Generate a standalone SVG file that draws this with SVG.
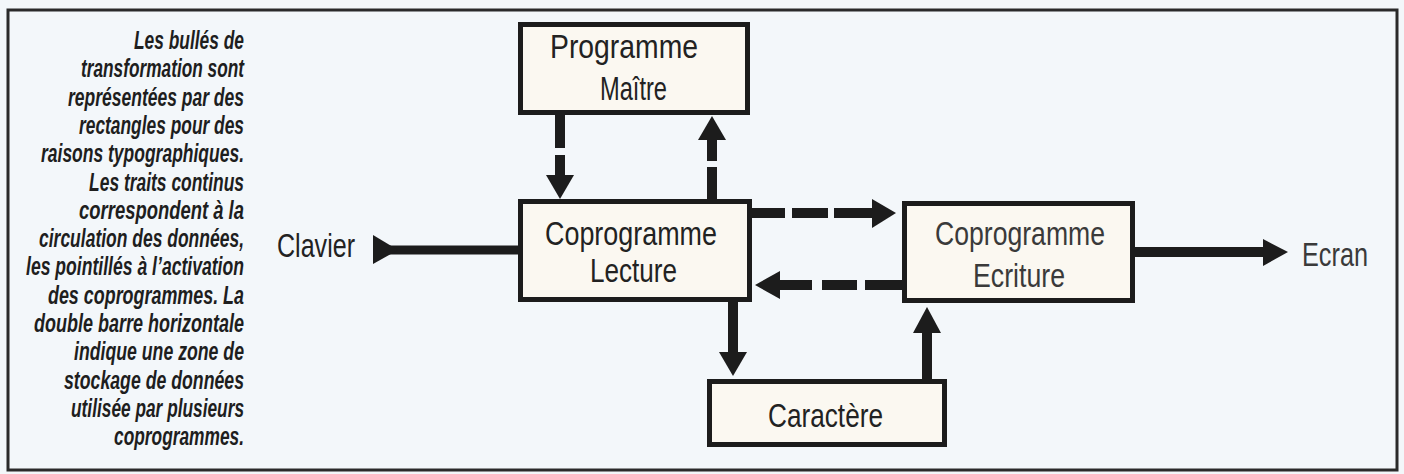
<svg xmlns="http://www.w3.org/2000/svg" width="1404" height="474" viewBox="0 0 1404 474">
<style>
.bg{fill:#f3f7fa}
.frame{fill:none;stroke:#2a2a2a;stroke-width:3}
.box{fill:#fbf8f1;stroke:#1c1c1c;stroke-width:5}
.lbl{font-family:"Liberation Sans",Arial,sans-serif;font-size:34px;fill:#222}
.lbl2{font-family:"Liberation Sans",Arial,sans-serif;font-size:34px;fill:#3a3a3a}
.note{font-family:"Liberation Sans",Arial,sans-serif;font-size:26px;font-weight:bold;font-style:italic;fill:#1e1e1e;text-anchor:end}
.shaft{stroke:#1c1c1c;stroke-width:10;fill:none}
.head{fill:#1c1c1c}
</style>
<rect class="bg" x="0" y="0" width="1404" height="474"/>
<rect class="frame" x="8" y="10" width="1389" height="460"/>

<g id="legend" transform="matrix(0.66,0,0,1,244,0)">
<text class="note" x="0" y="49" textLength="166.7" lengthAdjust="spacingAndGlyphs">Les bullés de</text>
<text class="note" x="0" y="77" textLength="247" lengthAdjust="spacingAndGlyphs">transformation sont</text>
<text class="note" x="0" y="106" textLength="266.7" lengthAdjust="spacingAndGlyphs">représentées par des</text>
<text class="note" x="0" y="134" textLength="250" lengthAdjust="spacingAndGlyphs">rectangles pour des</text>
<text class="note" x="0" y="162" textLength="307.6" lengthAdjust="spacingAndGlyphs">raisons typographiques.</text>
<text class="note" x="0" y="191" textLength="234.8" lengthAdjust="spacingAndGlyphs">Les traits continus</text>
<text class="note" x="0" y="219" textLength="250" lengthAdjust="spacingAndGlyphs">correspondent à la</text>
<text class="note" x="0" y="247" textLength="310.6" lengthAdjust="spacingAndGlyphs">circulation des données,</text>
<text class="note" x="0" y="275" textLength="330.3" lengthAdjust="spacingAndGlyphs">les pointillés à l’activation</text>
<text class="note" x="0" y="304" textLength="297" lengthAdjust="spacingAndGlyphs">des coprogrammes. La</text>
<text class="note" x="0" y="332" textLength="318.2" lengthAdjust="spacingAndGlyphs">double barre horizontale</text>
<text class="note" x="0" y="360" textLength="257.6" lengthAdjust="spacingAndGlyphs">indique une zone de</text>
<text class="note" x="0" y="389" textLength="272.7" lengthAdjust="spacingAndGlyphs">stockage de données</text>
<text class="note" x="0" y="417" textLength="262.1" lengthAdjust="spacingAndGlyphs">utilisée par plusieurs</text>
<text class="note" x="0" y="445" textLength="197" lengthAdjust="spacingAndGlyphs">coprogrammes.</text>
</g>

<g id="connectors">
<!-- Maitre -> Lecture (dashed, down) -->
<line class="shaft" x1="560" y1="114" x2="560" y2="148"/>
<line class="shaft" x1="560" y1="155" x2="560" y2="177"/>
<polygon class="head" points="546,175 574,175 560,199"/>
<!-- Lecture -> Maitre (dashed, up) -->
<line class="shaft" x1="712" y1="200" x2="712" y2="167"/>
<line class="shaft" x1="712" y1="161" x2="712" y2="138"/>
<polygon class="head" points="698,140 726,140 712,116"/>
<!-- Clavier -> Lecture -->
<line class="shaft" x1="380" y1="250" x2="519" y2="250" style="stroke-width:9"/>
<polygon class="head" points="373,235 373,264 398,250"/>
<!-- Lecture -> Ecriture (dashed) -->
<line class="shaft" x1="751" y1="213" x2="785" y2="213"/>
<line class="shaft" x1="792" y1="213" x2="828" y2="213"/>
<line class="shaft" x1="834" y1="213" x2="874" y2="213"/>
<polygon class="head" points="872,199 872,228 896,213"/>
<!-- Ecriture -> Lecture (dashed) -->
<polygon class="head" points="780,271 780,299 755,285"/>
<line class="shaft" x1="778" y1="285" x2="812" y2="285"/>
<line class="shaft" x1="822" y1="285" x2="857" y2="285"/>
<line class="shaft" x1="865" y1="285" x2="903" y2="285"/>
<!-- Ecriture -> Ecran -->
<line class="shaft" x1="1134" y1="252" x2="1265" y2="252"/>
<polygon class="head" points="1263,239 1263,266 1288,252"/>
<!-- Lecture -> Caractere -->
<line class="shaft" x1="733" y1="301" x2="733" y2="354"/>
<polygon class="head" points="719,352 747,352 733,376"/>
<!-- Caractere -> Ecriture -->
<line class="shaft" x1="927" y1="380" x2="927" y2="331"/>
<polygon class="head" points="913,333 941,333 927,307"/>
</g>

<g id="programme-maitre">
<rect class="box" x="520.5" y="24.5" width="227" height="88"/>
<text class="lbl" x="550" y="58" textLength="148" lengthAdjust="spacingAndGlyphs">Programme</text>
<text class="lbl" x="600" y="100" textLength="67" lengthAdjust="spacingAndGlyphs">Maître</text>
</g>

<g id="coprogramme-lecture">
<rect class="box" x="520.5" y="201.5" width="229" height="98"/>
<text class="lbl" x="545" y="245" textLength="172" lengthAdjust="spacingAndGlyphs">Coprogramme</text>
<text class="lbl" x="590" y="282" textLength="87" lengthAdjust="spacingAndGlyphs">Lecture</text>
</g>

<g id="coprogramme-ecriture">
<rect class="box" x="904.5" y="203.5" width="228" height="97"/>
<text class="lbl2" x="935" y="245" textLength="170" lengthAdjust="spacingAndGlyphs">Coprogramme</text>
<text class="lbl2" x="973" y="287" textLength="92" lengthAdjust="spacingAndGlyphs">Ecriture</text>
</g>

<g id="caractere">
<rect class="box" x="709.5" y="381.5" width="235" height="63"/>
<text class="lbl" x="768" y="427" textLength="115" lengthAdjust="spacingAndGlyphs">Caractère</text>
</g>

<g id="clavier">
<text class="lbl" x="277" y="257" textLength="78" lengthAdjust="spacingAndGlyphs">Clavier</text>
</g>

<g id="ecran">
<text class="lbl2" x="1302" y="266" textLength="66" lengthAdjust="spacingAndGlyphs">Ecran</text>
</g>
</svg>
